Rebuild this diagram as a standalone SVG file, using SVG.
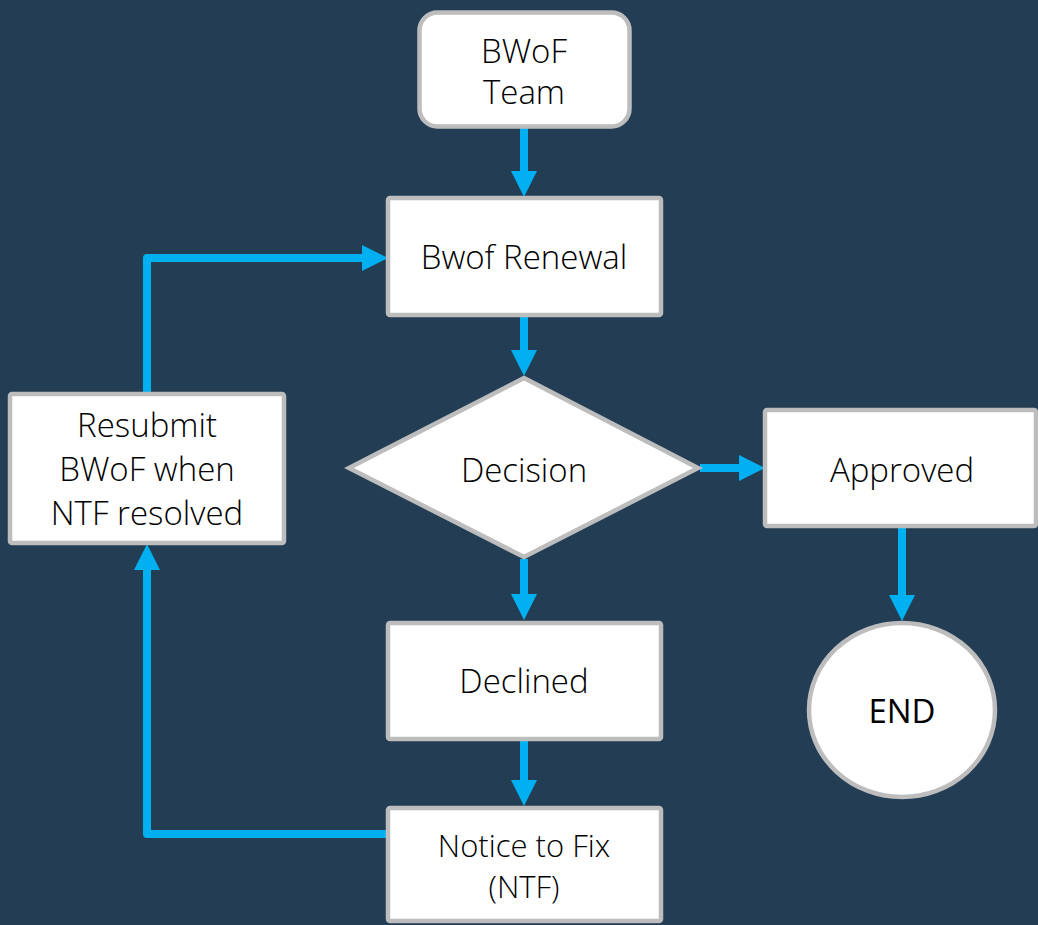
<svg xmlns="http://www.w3.org/2000/svg" width="1038" height="925" viewBox="0 0 1038 925">
<style>
.node{fill:#FFFFFF;stroke:#BDBDBD;stroke-width:4.5}
.lbl{font-family:"Open Sans","Noto Sans","Liberation Sans",sans-serif;font-size:33px;font-weight:300;fill:#000000;text-anchor:middle}
.sm{font-size:31px}
.end{font-weight:400}
.con{fill:none;stroke:#00B0F0;stroke-width:8;stroke-linejoin:round;stroke-linecap:butt;marker-end:url(#ah)}
</style>
<defs>
<marker id="ah" markerUnits="userSpaceOnUse" markerWidth="26" markerHeight="26" viewBox="0 0 26 26" refX="0" refY="13" orient="auto">
<path d="M0,0 L26,13 L0,26 Z" fill="#00B0F0"/>
</marker>
</defs>
<rect x="0" y="0" width="1038" height="925" fill="#223D54"/>
<g id="connectors">
<path class="con" d="M524,128 V171"/>
<path class="con" d="M524,317 V350"/>
<path class="con" d="M700,468 H739"/>
<path class="con" d="M524,559 V594"/>
<path class="con" d="M524,741 V780"/>
<path class="con" d="M902,528 V595"/>
<path class="con" d="M388,834 H147 V570"/>
<path class="con" d="M147,393 V258 H362"/>
</g>
<g id="team">
<rect class="node" x="419.5" y="12.5" width="210" height="114" rx="18"/>
<text class="lbl" x="524" y="63">BWoF</text>
<text class="lbl" x="524" y="104">Team</text>
</g>
<g id="renewal">
<rect class="node" x="388" y="198" width="273" height="117" rx="2"/>
<text class="lbl" x="524" y="269">Bwof Renewal</text>
</g>
<g id="decision">
<polygon class="node" points="524,378 698,468 524,557 349,468"/>
<text class="lbl" x="524" y="482">Decision</text>
</g>
<g id="approved">
<rect class="node" x="765" y="410" width="271" height="116" rx="2"/>
<text class="lbl" x="902" y="482">Approved</text>
</g>
<g id="end">
<ellipse class="node" cx="902" cy="710" rx="93" ry="87"/>
<text class="lbl end" x="902" y="723">END</text>
</g>
<g id="declined">
<rect class="node" x="388" y="623" width="273" height="116" rx="2"/>
<text class="lbl" x="524" y="693">Declined</text>
</g>
<g id="notice">
<rect class="node" x="388" y="808" width="273" height="113" rx="2"/>
<text class="lbl sm" x="524" y="857">Notice to Fix</text>
<text class="lbl sm" x="524" y="898">(NTF)</text>
</g>
<g id="resubmit">
<rect class="node" x="10" y="394" width="274" height="149" rx="2"/>
<text class="lbl" x="147" y="437">Resubmit</text>
<text class="lbl" x="147" y="481">BWoF when</text>
<text class="lbl" x="147" y="525">NTF resolved</text>
</g>
</svg>
